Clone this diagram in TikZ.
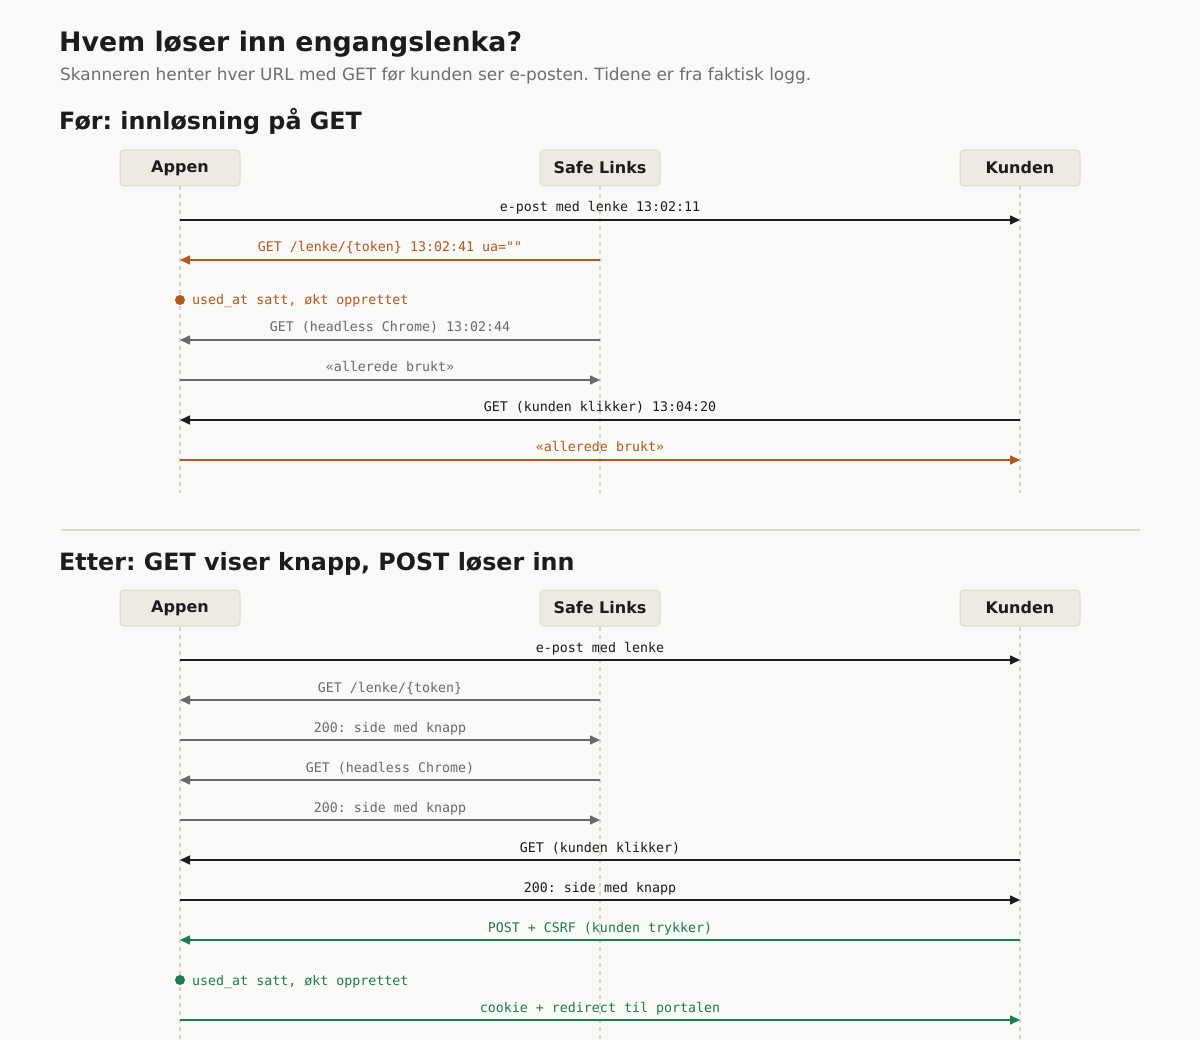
\documentclass[tikz,border=0pt]{standalone}
\usepackage{fontspec}
\setmainfont{DejaVu Sans}
\newfontfamily\monof{DejaVu Sans Mono}
\usetikzlibrary{arrows.meta}
\frenchspacing
\definecolor{bgc}{HTML}{F9F9F7}
\definecolor{inkc}{HTML}{1C1C1C}
\definecolor{subc}{HTML}{6E6E6E}
\definecolor{grayc}{HTML}{6A6A6A}
\definecolor{orc}{HTML}{B5561F}
\definecolor{grc}{HTML}{1E7B4F}
\definecolor{boxfill}{HTML}{EDEAE3}
\definecolor{boxline}{HTML}{DBD7CE}
\definecolor{lifec}{HTML}{D4D2CC}
\definecolor{sepc}{HTML}{DCD8D0}
\tikzset{
  party/.style={draw=boxline, fill=boxfill, rounded corners=4pt, line width=1pt,
    minimum width=120pt, minimum height=36pt, inner sep=0pt,
    font=\fontsize{16}{18}\selectfont\bfseries, text=inkc},
  lifeline/.style={draw=lifec, line width=1.5pt, dash pattern=on 4pt off 4pt},
  msgline/.style={line width=1.6pt, -{Triangle[length=10pt,width=9pt]}},
  blk/.style={msgline, draw=inkc, fill=inkc},
  gry/.style={msgline, draw=grayc, fill=grayc},
  org/.style={msgline, draw=orc, fill=orc},
  grn/.style={msgline, draw=grc, fill=grc},
  lbl/.style={font=\monof\fontsize{13.3}{15}\selectfont, inner sep=0pt, anchor=base},
  h1/.style={font=\fontsize{26.8}{30}\selectfont\bfseries, text=inkc, inner sep=0pt, anchor=base west},
  h2/.style={font=\fontsize{23.8}{27}\selectfont\bfseries, text=inkc, inner sep=0pt, anchor=base west},
  subt/.style={font=\fontsize{16.9}{19}\selectfont, text=subc, inner sep=0pt, anchor=base west},
  notetxt/.style={font=\monof\fontsize{13.3}{15}\selectfont, inner sep=0pt, anchor=base west},
}
\newcommand{\seqmsg}[6]{%
  \draw[#4] (#1 |- 0,#3) -- node[lbl, pos=0.5, yshift=8pt, text=#5] {#6} (#2 |- 0,#3);}
\begin{document}
\begin{tikzpicture}[x=1pt,y=-1pt]
\fill[bgc] (0,0) rectangle (1200,1040);
\useasboundingbox (0,0) rectangle (1200,1040);

\node[h1] (title) at (59,52) {Hvem løser inn engangslenka?};
\node[subt] (sub) at (60,81) {Skanneren henter hver URL med GET før kunden ser e-posten. Tidene er fra faktisk logg.};

% ---- Section 1
\node[h2] (hd1) at (59,130) {Før: innløsning på GET};
\node[party] (a1) at (180,168) {Appen};
\node[party] (s1) at (600,168) {Safe Links};
\node[party] (k1) at (1020,168) {Kunden};
\coordinate (a1e) at (180,493);
\coordinate (s1e) at (600,493);
\coordinate (k1e) at (1020,493);
\draw[lifeline] (a1.south) -- (a1e);
\draw[lifeline] (s1.south) -- (s1e);
\draw[lifeline] (k1.south) -- (k1e);

\seqmsg{a1}{k1}{220}{blk}{inkc}{e-post med lenke 13:02:11}
\seqmsg{s1}{a1}{260}{org}{orc}{GET /lenke/\{token\} 13:02:41 ua=""}
\fill[orc] (180,300) circle (5pt);
\node[notetxt, text=orc] (n1) at (192,305) {used\_at satt, økt opprettet};
\seqmsg{s1}{a1}{340}{gry}{grayc}{GET (headless Chrome) 13:02:44}
\seqmsg{a1}{s1}{380}{gry}{grayc}{«allerede brukt»}
\seqmsg{k1}{a1}{420}{blk}{inkc}{GET (kunden klikker) 13:04:20}
\seqmsg{a1}{k1}{460}{org}{orc}{«allerede brukt»}

% ---- Separator
\coordinate (sepL) at (61,530);
\coordinate (sepR) at (1140,530);
\draw[sepc, line width=2pt] (sepL) -- (sepR);

% ---- Section 2
\node[h2] (hd2) at (59,570) {Etter: GET viser knapp, POST løser inn};
\node[party] (a2) at (180,608) {Appen};
\node[party] (s2) at (600,608) {Safe Links};
\node[party] (k2) at (1020,608) {Kunden};
\coordinate (a2e) at (180,1040);
\coordinate (s2e) at (600,1040);
\coordinate (k2e) at (1020,1040);
\draw[lifeline] (a2.south) -- (a2e);
\draw[lifeline] (s2.south) -- (s2e);
\draw[lifeline] (k2.south) -- (k2e);

\seqmsg{a2}{k2}{660}{blk}{inkc}{e-post med lenke}
\seqmsg{s2}{a2}{700}{gry}{grayc}{GET /lenke/\{token\}}
\seqmsg{a2}{s2}{740}{gry}{grayc}{200: side med knapp}
\seqmsg{s2}{a2}{780}{gry}{grayc}{GET (headless Chrome)}
\seqmsg{a2}{s2}{820}{gry}{grayc}{200: side med knapp}
\seqmsg{k2}{a2}{860}{blk}{inkc}{GET (kunden klikker)}
\seqmsg{a2}{k2}{900}{blk}{inkc}{200: side med knapp}
\seqmsg{k2}{a2}{940}{grn}{grc}{POST + CSRF (kunden trykker)}
\fill[grc] (180,980) circle (5pt);
\node[notetxt, text=grc] (n2) at (192,985) {used\_at satt, økt opprettet};
\seqmsg{a2}{k2}{1020}{grn}{grc}{cookie + redirect til portalen}
\end{tikzpicture}
\end{document}
